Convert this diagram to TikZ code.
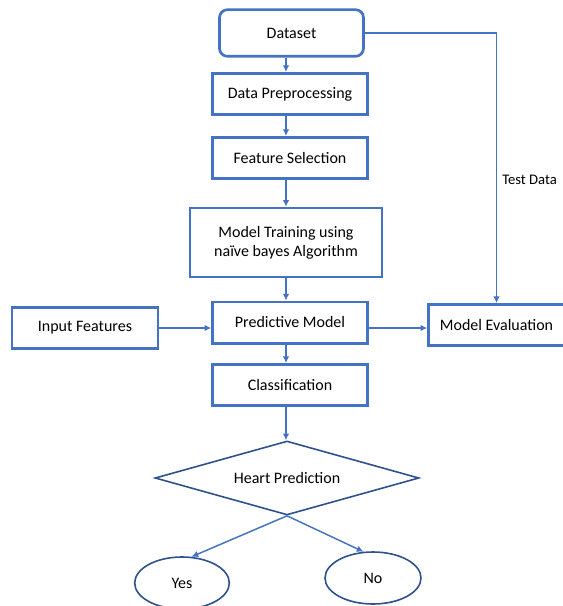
\documentclass[tikz,border=0pt]{standalone}
\usepackage{fontspec}
\setmainfont{Carlito}
\usetikzlibrary{shapes.geometric}
\usetikzlibrary{arrows.meta}

\definecolor{boxblue}{HTML}{4472C4}
\definecolor{lineblue}{HTML}{2F528F}

\tikzset{
  stage/.style={draw=boxblue, line width=2pt, fill=white, inner sep=0pt,
    minimum width=116.25pt, minimum height=31pt, font=\fontsize{12}{14.5}\selectfont, align=center},
  decision/.style={diamond, aspect=3.6, draw=lineblue, line width=1.2pt, inner sep=0pt,
    minimum width=198pt, minimum height=55.5pt, font=\fontsize{12}{14.5}\selectfont},
  outcome/.style={ellipse, draw=lineblue, line width=1.2pt, inner sep=0pt,
    minimum width=71pt, minimum height=39pt, font=\fontsize{12}{14.5}\selectfont},
  flow/.style={draw=boxblue, line width=1.1pt, -{Latex[length=5pt,width=5pt]}}
}

\begin{document}
\begin{tikzpicture}[x=0.75pt, y=-0.75pt]
  \useasboundingbox (0,0) rectangle (563,606);

  \node[stage, rounded corners=6pt, minimum width=108pt, minimum height=35pt] (dataset) at (291.5,33) {Dataset};
  \node[stage] (prep) at (290,94) {Data Preprocessing};
  \node[stage] (select) at (290,158) {Feature Selection};
  \node[stage, minimum width=144pt, minimum height=51.75pt] (train) at (286,242.5) {Model Training using\\na\"ive bayes Algorithm};
  \node[stage] (predict) at (290,322.5) {Predictive Model};
  \node[stage, minimum width=109.5pt] (input) at (85,328) {Input Features};
  \node[stage, minimum width=102pt] (eval) at (496.5,325) {Model Evaluation};
  \node[stage] (classify) at (290,385) {Classification};
  \node[decision] (heart) at (287,478) {Heart Prediction};
  \node[outcome] (yes) at (182,583) {Yes};
  \node[outcome, minimum width=72pt] (no) at (373,578) {No};
  \node[anchor=west, inner sep=0pt, font=\fontsize{11}{13}\selectfont] (testlabel) at (502,180) {Test Data};

  \draw[flow] (dataset.south -| train.center) -- (prep.north -| train.center);
  \draw[flow] (prep.south -| train.center) -- (select.north -| train.center);
  \draw[flow] (select.south -| train.center) -- (train.north);
  \draw[flow] (train.south) -- (predict.north -| train.center);
  \draw[flow] (predict.south -| train.center) -- (classify.north -| train.center);
  \draw[flow] (classify.south -| train.center) -- (heart.north -| train.center);
  \draw[flow] (input.east) -- (predict.west |- input.east);
  \draw[flow] (predict.east |- input.east) -- (eval.west |- input.east);
  \draw[flow] (dataset.east) -- (dataset.east -| eval.north) -- (eval.north);
  \draw[flow] (heart.south) -- (yes.70);
  \draw[flow] (heart.south) -- (no.110);
\end{tikzpicture}
\end{document}
